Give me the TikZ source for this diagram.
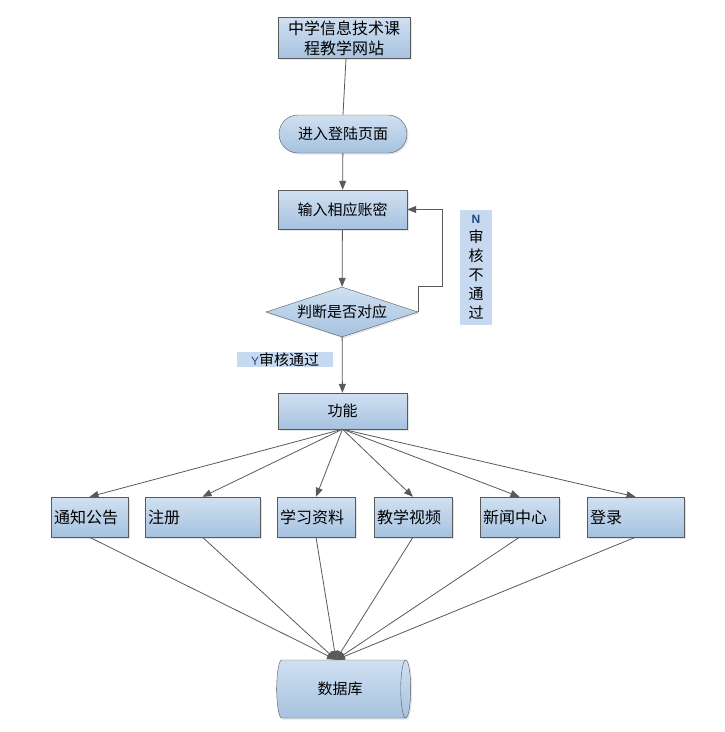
\documentclass[tikz,border=0pt]{standalone}
\usepackage{fontspec}
\newfontfamily\cjk{Noto Sans CJK SC}
\newfontfamily\latin{Liberation Sans}
\usetikzlibrary{arrows.meta,shapes.geometric,shapes.misc,shadows,calc}
\definecolor{boxtop}{RGB}{208,224,241}
\definecolor{boxbot}{RGB}{166,194,224}
\definecolor{tagfill}{RGB}{198,217,240}
\definecolor{edge}{RGB}{90,90,90}
\definecolor{nblue}{RGB}{31,73,125}

\begin{document}
\begin{tikzpicture}[x=1pt,y=-1pt]
    \tikzstyle{block} = [draw=edge, rectangle, top color=boxtop, bottom color=boxbot, minimum height=40pt, inner sep=3pt, drop shadow={shadow xshift=1.5pt,shadow yshift=-1.5pt,fill=black!20}, font=\cjk\fontsize{15}{18}\selectfont];
    \tikzstyle{leaf} = [block, font=\cjk\fontsize{16}{19}\selectfont, align=left];
    \tikzstyle{tag} = [fill=tagfill, inner sep=0pt, font=\cjk\fontsize{15}{19}\selectfont];
    \tikzstyle{line} = [draw=edge, line width=0.8pt, -{Triangle[length=9pt,width=7pt]}];
    \path[fill=white] (0,0) rectangle (725,732);
    \useasboundingbox (0,0) rectangle (725,732);

    \node[block, minimum width=132pt, align=center, font=\cjk\fontsize{16}{20}\selectfont] (site) at (344,38) {中学信息技术课\\程教学网站};
    \node[block, rounded rectangle, minimum width=134pt, minimum height=38pt] (login) at (343,134) {进入登陆页面};
    \node[block, minimum width=129pt, minimum height=39pt] (input) at (342.5,209.5) {输入相应账密};
    \node[block, diamond, aspect=3, inner sep=0pt, minimum width=152pt, minimum height=50pt] (judge) at (342,312) {判断是否对应};
    \node[block, minimum width=129pt, minimum height=36pt] (func) at (342.5,411) {功能};

    \node[leaf, minimum width=77pt, text width=71pt] (notice) at (89.5,517) {通知公告};
    \node[leaf, minimum width=115pt, text width=109pt] (reg) at (202.5,517) {注册};
    \node[leaf, minimum width=78pt, text width=72pt] (study) at (316,517) {学习资料};
    \node[leaf, minimum width=78pt, text width=72pt] (video) at (413,517) {教学视频};
    \node[leaf, minimum width=79pt, text width=73pt] (news) at (519.5,517) {新闻中心};
    \node[leaf, minimum width=97pt, text width=91pt] (signin) at (635.5,517) {登录};

    \node[block, cylinder, aspect=0.5, minimum width=58pt, minimum height=134pt] (db) at (340,689) {数据库};

    \node[tag, minimum width=32pt, minimum height=115pt, align=center] (no) at (476,267.5) {{\latin\bfseries\fontsize{12}{19}\selectfont\color{nblue}N}\\审\\核\\不\\通\\过};
    \node[tag, minimum width=96pt, minimum height=15pt] (yes) at (285,359.5) {{\latin\fontsize{12}{13}\selectfont\color{nblue}Y}审核通过};

    \coordinate (back) at (442,286);
    \coordinate (dbtop) at ($(db.north)+(-4,0)$);

    \tikzstyle{every path}=[line]
    \path[-] ($(site.south)+(2,0)$) -- (login.north);
    \path (login) -- (input);
    \path (input) -- (judge);
    \path (judge.east) |- (back) |- (input.east);
    \path (judge) -- (func);
    \foreach \leafname in {notice,reg,study,video,news,signin}
        \path (func.south) -- (\leafname.north);
    \foreach \leafname in {notice,reg,study,video,news,signin}
        \path (\leafname.south) -- (dbtop);
\end{tikzpicture}
\end{document}
